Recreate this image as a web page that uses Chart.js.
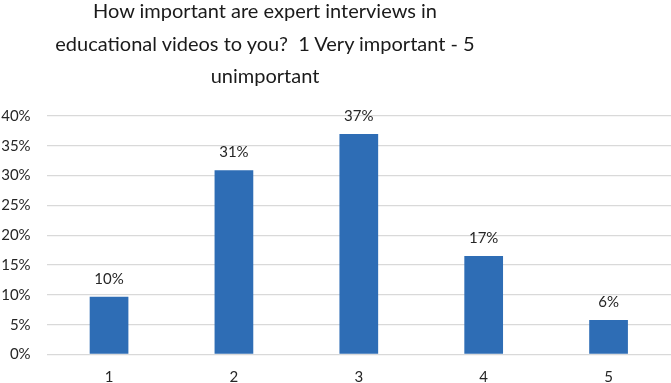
<!DOCTYPE html>
<html>
<head>
<meta charset="utf-8">
<script src="https://cdn.jsdelivr.net/npm/chart.js@4/dist/chart.umd.min.js"></script>
<style>
  html, body { margin: 0; padding: 0; background: #fff; }
  #wrap { position: relative; width: 671px; height: 383px; }
  #title { position: absolute; left: 0; top: -6px; width: 530px; text-align: center;
           font-family: Lato, "Open Sans", sans-serif; font-size: 20px; line-height: 32.5px; color: #1a1a1a; }
  canvas { position: absolute; left: 0; top: 0; }
</style>
</head>
<body>
<div id="wrap">
  <canvas id="c" width="671" height="383"></canvas>
  <div id="title">How important are expert interviews in<br>educational videos to you?&nbsp; 1 Very important - 5<br>unimportant</div>
</div>
<script>
const categories = ["1", "2", "3", "4", "5"];
const values = [9.7, 30.9, 37.0, 16.5, 5.8];
const valueLabels = ["10%", "31%", "37%", "17%", "6%"];
const yTicks = [0, 5, 10, 15, 20, 25, 30, 35, 40];

const labelPlugin = {
  id: 'valueLabels',
  afterDatasetsDraw(chart) {
    const ctx = chart.ctx;
    const meta = chart.getDatasetMeta(0);
    ctx.save();
    ctx.font = '15px Lato, "Open Sans", sans-serif';
    ctx.fillStyle = '#262626';
    ctx.textAlign = 'center';
    ctx.textBaseline = 'middle';
    meta.data.forEach((bar, i) => {
      ctx.fillText(valueLabels[i], bar.x, bar.y - 18);
    });
    ctx.restore();
  }
};

new Chart(document.getElementById('c'), {
  type: 'bar',
  data: {
    labels: categories,
    datasets: [{
      data: values,
      backgroundColor: '#2E6DB5',
      barPercentage: 0.31,
      categoryPercentage: 1.0
    }]
  },
  options: {
    responsive: false,
    animation: false,
    layout: { padding: { top: 116, right: 0, bottom: 0, left: 0 } },
    plugins: { legend: { display: false }, tooltip: { enabled: false }, title: { display: false } },
    scales: {
      x: {
        grid: { display: false },
        border: { display: false },
        ticks: { color: '#262626', font: { family: 'Lato, "Open Sans", sans-serif', size: 15 }, padding: 6 },
        afterFit(s) { s.height = 28.5; }
      },
      y: {
        min: 0, max: 40,
        afterBuildTicks(s) { s.ticks = yTicks.map(v => ({ value: v })); },
        grid: { color: '#d9d9d9', lineWidth: 1.3, drawTicks: false },
        border: { display: false },
        ticks: {
          color: '#262626',
          font: { family: 'Lato, "Open Sans", sans-serif', size: 15 },
          padding: 16,
          callback: v => v + '%'
        },
        afterFit(s) { s.width = 46.6; }
      }
    }
  },
  plugins: [labelPlugin]
});
</script>
</body>
</html>
